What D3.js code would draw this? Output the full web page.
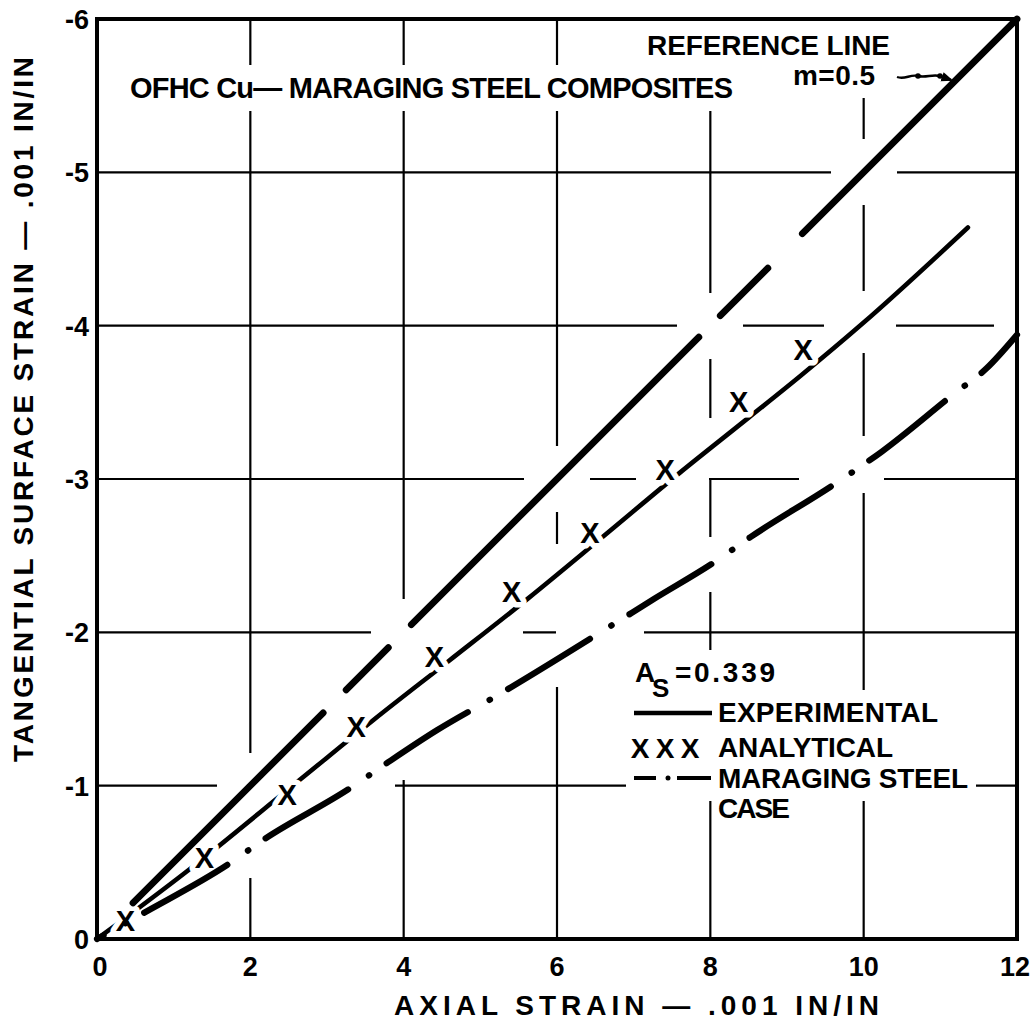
<!DOCTYPE html>
<html>
<head>
<meta charset="utf-8">
<script src="https://cdn.jsdelivr.net/npm/d3@7"></script>
<style>
  body { margin: 0; background: #fff; }
  svg text { font-family: "Liberation Sans", Arial, sans-serif; font-weight: bold; fill: #000; }
</style>
</head>
<body>
<svg id="chart" width="1035" height="1022"></svg>
<script>
// ---- data (strain in units of .001 in/in) ----
const xTicks = [0, 2, 4, 6, 8, 10, 12];
const xTickLabels = ["0", "2", "4", "6", "8", "10", "12"];
const yTicks = [0, -1, -2, -3, -4, -5, -6];
const yTickLabels = ["0", "-1", "-2", "-3", "-4", "-5", "-6"];
const xGridValues = [2, 4, 6, 8, 10];
const yGridValues = [-1, -2, -3, -4, -5];

// reference line m = 0.5, drawn as long broken strokes (axial ranges)
const referenceSlope = 0.5;
const referenceSegments = [[0.47, 2.95], [3.25, 3.8], [4.1, 7.85], [8.13, 8.75], [9.2, 12]];

// experimental curve
const experimental = [
  [0, 0], [1.17, -0.44], [2.65, -1.04], [3.61, -1.43], [4.58, -1.81],
  [5.62, -2.22], [6.59, -2.62], [7.6, -3.04], [8.5, -3.4], [9.17, -3.67],
  [10.0, -4.02], [11.36, -4.64]
];

// analytical points
const analytical = [
  [0.37, -0.12], [1.40, -0.53], [2.48, -0.94], [3.38, -1.38], [4.40, -1.84],
  [5.41, -2.26], [6.43, -2.65], [7.41, -3.06], [8.37, -3.50], [9.21, -3.84]
];

// maraging steel case
const steelCase = [
  [0, 0], [0.61, -0.17], [1.72, -0.49], [2.18, -0.65], [3.29, -0.98],
  [3.76, -1.14], [4.43, -1.36], [5.26, -1.6], [6.76, -2.06], [7.24, -2.21],
  [8.06, -2.46], [8.52, -2.62], [9.63, -2.97], [10.24, -3.18], [11.19, -3.56],
  [11.6, -3.72], [12, -3.94]
];

const titleText = "OFHC  Cu\u2014 MARAGING  STEEL  COMPOSITES";
const xTitle = "AXIAL  STRAIN \u2014 .001 IN/IN";
const yTitle = "TANGENTIAL  SURFACE  STRAIN \u2014 .001 IN/IN";
const areaLabel = "=0.339";

// ---- layout ----
const svg = d3.select("#chart");
const x = d3.scaleLinear().domain([0, 12]).range([97, 1017]);
const y = d3.scaleLinear().domain([0, -6]).range([939, 19]);

const gridLayer = svg.append("g");
const curveLayer = svg.append("g");
const textLayer = svg.append("g");
const borderLayer = svg.append("g");

// ---- curves ----
const lineGen = d3.line().x(d => x(d[0])).y(d => y(d[1])).curve(d3.curveMonotoneX);

const expPath = curveLayer.append("path")
  .datum(experimental)
  .attr("d", lineGen)
  .attr("fill", "none").attr("stroke", "#000")
  .attr("stroke-width", 4.6).attr("stroke-linecap", "round");

curveLayer.selectAll("text.mark")
  .data(analytical)
  .join("text")
  .attr("class", "mark")
  .attr("x", d => x(d[0]))
  .attr("y", d => y(d[1]) + 10)
  .attr("text-anchor", "middle")
  .style("font-size", "29px")
  .style("stroke", "#fff").style("stroke-width", 11)
  .style("paint-order", "stroke").style("stroke-linejoin", "round")
  .text("X");

const steelPath = curveLayer.append("path")
  .datum(steelCase)
  .attr("d", lineGen)
  .attr("fill", "none").attr("stroke", "#000")
  .attr("stroke-width", 6.2).attr("stroke-linecap", "round")
  .attr("stroke-dasharray", "96,25,0.5,21")
  .attr("stroke-dashoffset", 88.5);

curveLayer.selectAll("line.ref")
  .data(referenceSegments)
  .join("line")
  .attr("class", "ref")
  .attr("x1", d => x(d[0])).attr("y1", d => y(-referenceSlope * d[0]))
  .attr("x2", d => x(d[1])).attr("y2", d => y(-referenceSlope * d[1]))
  .attr("stroke", "#000").attr("stroke-width", 6.8).attr("stroke-linecap", "round");

// ---- text inside the plot ----
function addText(str, tx, ty, size, len, cls) {
  const t = textLayer.append("text")
    .attr("x", tx).attr("y", ty)
    .style("font-size", size + "px")
    .text(str);
  if (len) t.attr("textLength", len).attr("lengthAdjust", "spacing");
  if (cls) t.attr("class", cls);
  return t;
}

addText(titleText, 130, 98, 29, 603, "inplot");
addText("REFERENCE LINE", 647, 55, 28, 243, "inplot");
addText("m=0.5", 793, 85, 28, 82, "inplot");

// leader from the slope note to the reference line
const defs = svg.append("defs");
defs.append("marker").attr("id", "arrow")
  .attr("viewBox", "0 0 10 10").attr("refX", 8).attr("refY", 5)
  .attr("markerWidth", 5).attr("markerHeight", 5).attr("orient", "auto")
  .append("path").attr("d", "M0,1 L10,5 L0,9 Z").attr("fill", "#000");
textLayer.append("path")
  .attr("class", "inplot")
  .attr("d", "M897,77 C905,80 910,74 918,76 C926,78 932,74 940,76 L951,80")
  .attr("fill", "none").attr("stroke", "#000").attr("stroke-width", 2.4)
  .attr("marker-end", "url(#arrow)");
textLayer.selectAll("circle.lead").data([[918, 76], [940, 76]]).join("circle")
  .attr("cx", d => d[0]).attr("cy", d => d[1]).attr("r", 2.8).attr("fill", "#000");

// legend
const leg = textLayer.append("g");
const legA = leg.append("g").attr("class", "inplot");
legA.append("text").attr("x", 635).attr("y", 682).style("font-size", "28px").text("A");
legA.append("text").attr("x", 652).attr("y", 697).style("font-size", "26px").text("S");
legA.append("text").attr("x", 675).attr("y", 682).style("font-size", "28px")
  .attr("textLength", 100).attr("lengthAdjust", "spacing").text(areaLabel);

const legExp = leg.append("g").attr("class", "inplot");
legExp.append("line").attr("x1", 634).attr("x2", 712).attr("y1", 713).attr("y2", 713)
  .attr("stroke", "#000").attr("stroke-width", 4.4);
legExp.append("text").attr("x", 718).attr("y", 722).style("font-size", "28px")
  .attr("textLength", 220).attr("lengthAdjust", "spacing").text("EXPERIMENTAL");

const legAn = leg.append("g").attr("class", "inplot");
legAn.selectAll("text.lx").data([640, 665, 690]).join("text")
  .attr("class", "lx").attr("x", d => d).attr("y", 758)
  .attr("text-anchor", "middle").style("font-size", "28px").text("X");
legAn.append("text").attr("x", 718).attr("y", 757).style("font-size", "28px")
  .attr("textLength", 175).attr("lengthAdjust", "spacing").text("ANALYTICAL");

const legSt = leg.append("g").attr("class", "inplot");
legSt.append("line").attr("x1", 634).attr("x2", 656).attr("y1", 778).attr("y2", 778)
  .attr("stroke", "#000").attr("stroke-width", 4);
legSt.append("circle").attr("cx", 668).attr("cy", 778).attr("r", 2.5).attr("fill", "#000");
legSt.append("line").attr("x1", 677).attr("x2", 711).attr("y1", 778).attr("y2", 778)
  .attr("stroke", "#000").attr("stroke-width", 4);
legSt.append("text").attr("x", 718).attr("y", 788).style("font-size", "28px")
  .attr("textLength", 250).attr("lengthAdjust", "spacing").text("MARAGING STEEL");
addText("CASE", 718, 818, 28, 72, "inplot");

// ---- axis labels ----
textLayer.selectAll("text.xt").data(xTicks).join("text")
  .attr("class", "xt")
  .attr("x", (d, i) => x(d) + (i === 0 ? 3 : 0) - (i === xTicks.length - 1 ? 2 : 0))
  .attr("y", 976)
  .attr("text-anchor", "middle").style("font-size", "27px")
  .text((d, i) => xTickLabels[i]);

textLayer.selectAll("text.yt").data(yTicks).join("text")
  .attr("class", "yt")
  .attr("x", 89).attr("y", d => y(d) + 10)
  .attr("text-anchor", "end").style("font-size", "27px")
  .text((d, i) => yTickLabels[i]);

textLayer.append("text")
  .attr("x", 394).attr("y", 1015).style("font-size", "28px")
  .attr("textLength", 485).attr("lengthAdjust", "spacing").text(xTitle);

textLayer.append("text")
  .attr("transform", "translate(33,762) rotate(-90)")
  .style("font-size", "28px")
  .attr("textLength", 705).attr("lengthAdjust", "spacing").text(yTitle);

// ---- grid, broken where it meets curves and lettering ----
function samplePath(p, step) {
  const L = p.getTotalLength(), pts = [];
  for (let s = 0; s <= L; s += step) { const q = p.getPointAtLength(s); pts.push([q.x, q.y]); }
  return pts;
}
const curvePts = [].concat(samplePath(expPath.node(), 2), samplePath(steelPath.node(), 2));
for (let v = 0; v <= 12; v += 0.02) curvePts.push([x(v), y(-referenceSlope * v)]);

const boxes = [];
textLayer.selectAll(".inplot").each(function () {
  const b = this.getBBox();
  boxes.push([b.x - 7, b.y - 6, b.x + b.width + 7, b.y + b.height + 6]);
});

const clearDist = 23, minRun = 30;
function blocked(px, py) {
  for (const b of boxes) if (px >= b[0] && px <= b[2] && py >= b[1] && py <= b[3]) return true;
  for (const c of curvePts) {
    const dx = c[0] - px, dy = c[1] - py;
    if (dx * dx + dy * dy < clearDist * clearDist) return true;
  }
  return false;
}
function runs(fn, a, b) {
  const out = []; let start = null;
  for (let t = a; t <= b; t += 1) {
    const free = !fn(t);
    if (free && start === null) start = t;
    if ((!free || t + 1 > b) && start !== null) {
      const end = free ? t : t - 1;
      if (end - start >= minRun) out.push([start, end]);
      start = null;
    }
  }
  return out;
}
const gridSegs = [];
xGridValues.forEach(v => {
  const px = x(v);
  runs(t => blocked(px, t), y(-6), y(0)).forEach(r => gridSegs.push([px, r[0], px, r[1]]));
});
yGridValues.forEach(v => {
  const py = y(v);
  runs(t => blocked(t, py), x(0), x(12)).forEach(r => gridSegs.push([r[0], py, r[1], py]));
});
gridLayer.selectAll("line").data(gridSegs).join("line")
  .attr("x1", d => d[0]).attr("y1", d => d[1]).attr("x2", d => d[2]).attr("y2", d => d[3])
  .attr("stroke", "#000").attr("stroke-width", 2.2);

// ---- frame ----
borderLayer.append("rect")
  .attr("x", x(0)).attr("y", y(-6))
  .attr("width", x(12) - x(0)).attr("height", y(0) - y(-6))
  .attr("fill", "none").attr("stroke", "#000").attr("stroke-width", 4);
</script>
</body>
</html>
